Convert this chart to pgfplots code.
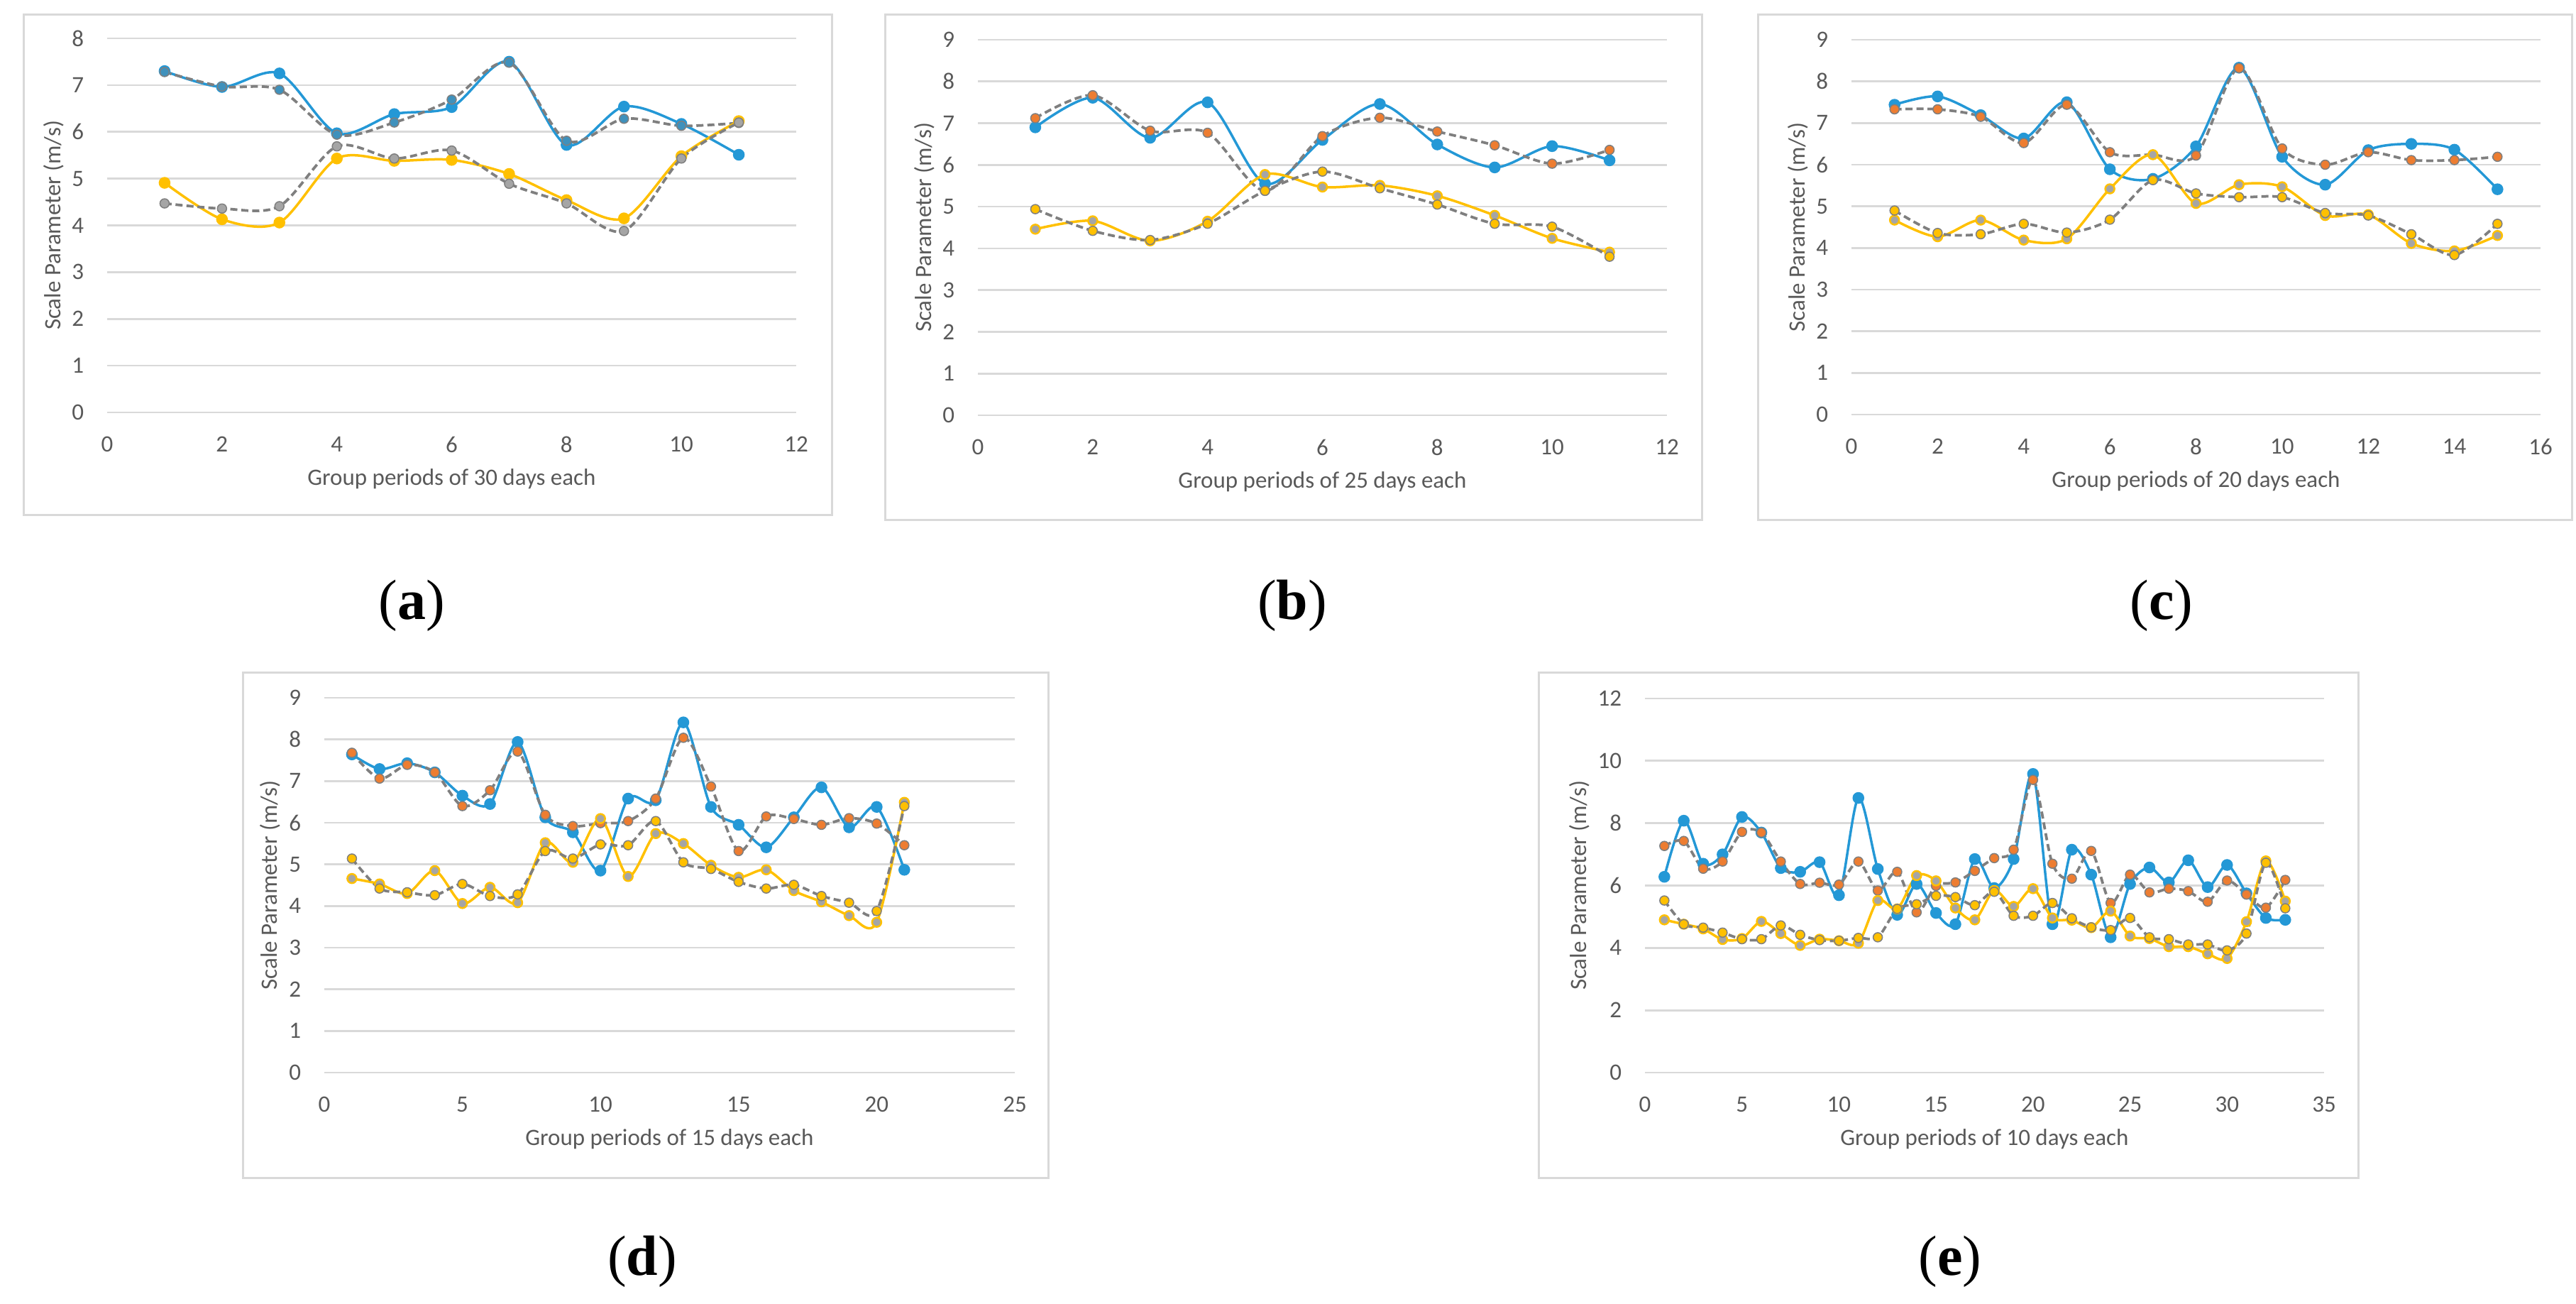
\documentclass[border=0pt]{standalone}
\usepackage{fontspec}
\setmainfont{Carlito}
\newfontfamily\labfont{Liberation Serif}
\usepackage{pgfplots}
\pgfplotsset{compat=1.18}
\usepackage{pgfplotstable}
\definecolor{sblue}{RGB}{36,152,214}
\definecolor{sorange}{RGB}{237,125,49}
\definecolor{sgold}{RGB}{255,192,0}
\definecolor{sgray}{RGB}{127,127,127}
\definecolor{smgray}{RGB}{165,165,165}
\definecolor{gridgray}{RGB}{217,217,217}
\definecolor{txtgray}{RGB}{89,89,89}
\definecolor{framegray}{RGB}{217,217,217}

\pgfplotstableread{
x b u y l
1 7.30 7.28 4.91 4.47
2 6.96 6.97 4.13 4.36
3 7.25 6.90 4.06 4.41
4 5.97 5.94 5.43 5.69
5 6.38 6.20 5.38 5.43
6 6.53 6.69 5.40 5.60
7 7.50 7.48 5.10 4.89
8 5.72 5.81 4.54 4.47
9 6.54 6.28 4.15 3.88
10 6.17 6.13 5.48 5.43
11 5.51 6.19 6.23 6.20
}\tabA

\pgfplotstableread{
x b u y l
1 6.90 7.12 4.46 4.94
2 7.61 7.67 4.66 4.42
3 6.65 6.82 4.18 4.20
4 7.50 6.77 4.65 4.59
5 5.55 5.38 5.77 5.38
6 6.60 6.69 5.47 5.84
7 7.46 7.13 5.51 5.44
8 6.49 6.80 5.26 5.05
9 5.94 6.47 4.79 4.59
10 6.45 6.03 4.24 4.52
11 6.11 6.36 3.91 3.80
}\tabB

\pgfplotstableread{
x b u y l
1 7.44 7.33 4.67 4.90
2 7.64 7.33 4.27 4.36
3 7.19 7.15 4.67 4.33
4 6.63 6.52 4.19 4.58
5 7.50 7.44 4.22 4.37
6 5.89 6.30 5.42 4.68
7 5.66 6.24 6.24 5.63
8 6.44 6.22 5.07 5.31
9 8.33 8.32 5.52 5.22
10 6.19 6.39 5.47 5.22
11 5.52 6.00 4.78 4.84
12 6.35 6.30 4.80 4.78
13 6.50 6.11 4.11 4.33
14 6.36 6.11 3.93 3.83
15 5.41 6.19 4.30 4.58
}\tabC

\pgfplotstableread{
x b u y l
1 7.64 7.68 4.66 5.14
2 7.29 7.06 4.53 4.42
3 7.43 7.39 4.30 4.33
4 7.21 7.21 4.85 4.26
5 6.65 6.40 4.06 4.53
6 6.45 6.78 4.45 4.24
7 7.94 7.71 4.08 4.28
8 6.13 6.19 5.52 5.32
9 5.77 5.92 5.05 5.14
10 4.85 5.99 6.10 5.48
11 6.58 6.04 4.71 5.46
12 6.54 6.58 5.74 6.04
13 8.41 8.04 5.50 5.05
14 6.38 6.87 4.98 4.89
15 5.95 5.32 4.69 4.58
16 5.41 6.15 4.87 4.42
17 6.13 6.09 4.37 4.51
18 6.85 5.95 4.10 4.24
19 5.89 6.11 3.77 4.08
20 6.38 5.98 3.61 3.88
21 4.87 5.46 6.49 6.40
}\tabD

\pgfplotstableread{
x b u y l
1 6.28 7.27 4.90 5.52
2 8.08 7.43 4.76 4.76
3 6.70 6.54 4.61 4.65
4 7.00 6.77 4.27 4.49
5 8.20 7.72 4.30 4.28
6 7.70 7.70 4.85 4.28
7 6.56 6.77 4.46 4.72
8 6.44 6.05 4.08 4.42
9 6.75 6.09 4.28 4.25
10 5.69 6.03 4.23 4.23
11 8.81 6.77 4.15 4.32
12 6.53 5.84 5.52 4.34
13 5.06 6.44 5.25 5.25
14 6.05 5.14 6.32 5.40
15 5.12 5.99 6.15 5.67
16 4.76 6.10 5.28 5.63
17 6.85 6.47 4.90 5.37
18 5.92 6.88 5.84 5.80
19 6.85 7.15 5.33 5.03
20 9.58 9.39 5.90 5.03
21 4.76 6.70 4.96 5.44
22 7.15 6.22 4.89 4.95
23 6.35 7.11 4.65 4.66
24 4.34 5.44 5.18 4.57
25 6.05 6.35 4.38 4.96
26 6.58 5.78 4.30 4.34
27 6.10 5.90 4.04 4.28
28 6.81 5.82 4.04 4.11
29 5.95 5.48 3.81 4.11
30 6.66 6.16 3.66 3.92
31 5.75 5.71 4.84 4.46
32 4.96 5.29 6.79 6.73
33 4.90 6.18 5.50 5.27
}\tabE

\pgfplotsset{
  panel/.style={
    scale only axis, anchor=south west, clip=false,
    xmin=0, ymin=0,
    axis line style={draw=none}, tick style={draw=none},
    ymajorgrids, grid style={line width=0.55pt, gridgray},
    /pgf/number format/assume math mode=true,
    tick label style={font=\fontsize{6.6}{7}\selectfont, text=txtgray, inner sep=0pt},
    yticklabel style={anchor=east, xshift=-6.4pt},
    xticklabel style={anchor=north, yshift=-6.6pt},
    label style={font=\fontsize{6.6}{7}\selectfont, text=txtgray},
    xlabel style={at={(axis description cs:0.5,-0.178)}, anchor=center},
    ylabel style={at={(axis description cs:-0.078,0.5)}, anchor=center},
    ylabel={Scale Parameter (m/s)},
  },
  sb/.style={smooth, color=sblue, line width=0.7pt, mark=*, mark size=1.3pt,
    mark options={solid, fill=sblue, draw=sblue}},
  su/.style={smooth, color=sgray, line width=0.75pt, dash pattern=on 2pt off 1.1pt,
    mark=*, mark size=1.3pt, mark options={solid, fill=sorange, draw=sgray, line width=0.3pt}},
  sy/.style={smooth, color=sgold, line width=0.7pt, mark=*, mark size=1.3pt,
    mark options={solid, fill=smgray, draw=sgold, line width=0.5pt}},
  sl/.style={smooth, color=sgray, line width=0.75pt, dash pattern=on 2pt off 1.1pt,
    mark=*, mark size=1.3pt, mark options={solid, fill=sgold, draw=sgray, line width=0.3pt}},
}

\begin{document}
\begin{tikzpicture}
\useasboundingbox (0,0) rectangle (726pt,367.2pt);
% frames
\draw[framegray, line width=0.6pt] (6.6pt,222pt) rectangle (234.4pt,363pt);
\draw[framegray, line width=0.6pt] (249.4pt,220.6pt) rectangle (479.6pt,363pt);
\draw[framegray, line width=0.6pt] (495.4pt,220.6pt) rectangle (724.8pt,363pt);
\draw[framegray, line width=0.6pt] (68.4pt,35.4pt) rectangle (295.4pt,177.6pt);
\draw[framegray, line width=0.6pt] (433.6pt,35.4pt) rectangle (664.6pt,177.6pt);

% (a)
\begin{axis}[panel, at={(30.2pt,251pt)}, width=194.2pt, height=105.4pt,
  xmax=12, ymax=8, xtick distance=2, ytick distance=1,
  xlabel={Group periods of 30 days each}]
\addplot[sb] table[x=x,y=b]{\tabA};
\addplot[su, mark options={solid, fill=sblue!70!gray, draw=sgray, line width=0.3pt}] table[x=x,y=u]{\tabA};
\addplot[sy, mark options={solid, fill=sgold, draw=sgold}] table[x=x,y=y]{\tabA};
\addplot[sl, mark options={solid, fill=smgray, draw=sgray, line width=0.3pt}] table[x=x,y=l]{\tabA};
\end{axis}

% (b)
\begin{axis}[panel, at={(275.6pt,250.2pt)}, width=194.2pt, height=105.8pt,
  xmax=12, ymax=9, xtick distance=2, ytick distance=1,
  xlabel={Group periods of 25 days each}]
\addplot[sb] table[x=x,y=b]{\tabB};
\addplot[su] table[x=x,y=u]{\tabB};
\addplot[sy] table[x=x,y=y]{\tabB};
\addplot[sl] table[x=x,y=l]{\tabB};
\end{axis}

% (c)
\begin{axis}[panel, at={(521.8pt,250.4pt)}, width=194.2pt, height=105.6pt,
  xmax=16, ymax=9, xtick distance=2, ytick distance=1,
  xlabel={Group periods of 20 days each}]
\addplot[sb] table[x=x,y=b]{\tabC};
\addplot[su] table[x=x,y=u]{\tabC};
\addplot[sy] table[x=x,y=y]{\tabC};
\addplot[sl] table[x=x,y=l]{\tabC};
\end{axis}

% (d)
\begin{axis}[panel, at={(91.4pt,65pt)}, width=194.6pt, height=105.6pt,
  xmax=25, ymax=9, xtick distance=5, ytick distance=1,
  xlabel={Group periods of 15 days each}]
\addplot[sb] table[x=x,y=b]{\tabD};
\addplot[su] table[x=x,y=u]{\tabD};
\addplot[sy] table[x=x,y=y]{\tabD};
\addplot[sl] table[x=x,y=l]{\tabD};
\end{axis}

% (e)
\begin{axis}[panel, at={(463.6pt,65pt)}, width=191.4pt, height=105.4pt,
  xmax=35, ymax=12, xtick distance=5, ytick distance=2,
  ylabel style={at={(axis description cs:-0.096,0.5)}},
  xlabel={Group periods of 10 days each}]
\addplot[sb] table[x=x,y=b]{\tabE};
\addplot[su] table[x=x,y=u]{\tabE};
\addplot[sy] table[x=x,y=y]{\tabE};
\addplot[sl] table[x=x,y=l]{\tabE};
\end{axis}

% sub-figure labels
\node[font=\labfont\fontsize{16}{18}\selectfont] at (116pt,196.6pt) {(\textbf{a})};
\node[font=\labfont\fontsize{16}{18}\selectfont] at (364.2pt,196.6pt) {(\textbf{b})};
\node[font=\labfont\fontsize{16}{18}\selectfont] at (609.2pt,196.6pt) {(\textbf{c})};
\node[font=\labfont\fontsize{16}{18}\selectfont] at (181pt,11.8pt) {(\textbf{d})};
\node[font=\labfont\fontsize{16}{18}\selectfont] at (549.6pt,11.8pt) {(\textbf{e})};
\end{tikzpicture}
\end{document}
